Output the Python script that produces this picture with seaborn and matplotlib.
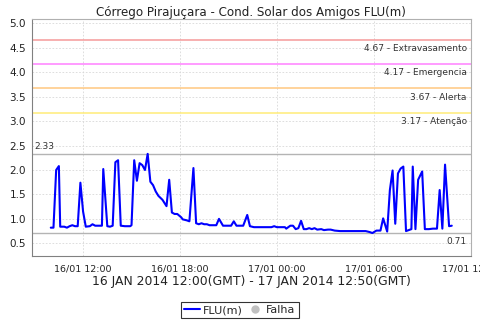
import matplotlib
matplotlib.use("Agg")
import matplotlib.pyplot as plt
import matplotlib.dates as mdates
from matplotlib.lines import Line2D
import pandas as pd
import seaborn as sns

# ---- data ----
times = [
    "2014-01-16 10:00", "2014-01-16 10:10", "2014-01-16 10:20", "2014-01-16 10:30",
    "2014-01-16 10:35", "2014-01-16 10:50", "2014-01-16 11:00", "2014-01-16 11:10",
    "2014-01-16 11:20", "2014-01-16 11:30", "2014-01-16 11:40", "2014-01-16 11:50",
    "2014-01-16 12:00", "2014-01-16 12:10", "2014-01-16 12:25", "2014-01-16 12:35",
    "2014-01-16 12:45", "2014-01-16 13:10", "2014-01-16 13:15", "2014-01-16 13:30",
    "2014-01-16 13:40", "2014-01-16 13:50", "2014-01-16 14:00", "2014-01-16 14:10",
    "2014-01-16 14:20", "2014-01-16 14:35", "2014-01-16 14:55", "2014-01-16 15:00",
    "2014-01-16 15:10", "2014-01-16 15:20", "2014-01-16 15:30", "2014-01-16 15:40",
    "2014-01-16 15:50", "2014-01-16 16:00", "2014-01-16 16:10", "2014-01-16 16:20",
    "2014-01-16 16:30", "2014-01-16 16:40", "2014-01-16 16:55", "2014-01-16 17:10",
    "2014-01-16 17:20", "2014-01-16 17:30", "2014-01-16 17:40", "2014-01-16 17:50",
    "2014-01-16 18:05", "2014-01-16 18:10", "2014-01-16 18:25", "2014-01-16 18:35",
    "2014-01-16 18:50", "2014-01-16 19:00", "2014-01-16 19:10", "2014-01-16 19:20",
    "2014-01-16 19:30", "2014-01-16 19:40", "2014-01-16 19:50", "2014-01-16 20:15",
    "2014-01-16 20:25", "2014-01-16 20:40", "2014-01-16 21:10", "2014-01-16 21:20",
    "2014-01-16 21:30", "2014-01-16 21:55", "2014-01-16 22:10", "2014-01-16 22:20",
    "2014-01-16 22:35", "2014-01-16 23:40", "2014-01-16 23:50", "2014-01-17 00:00",
    "2014-01-17 00:30", "2014-01-17 00:35", "2014-01-17 00:50", "2014-01-17 01:00",
    "2014-01-17 01:10", "2014-01-17 01:20", "2014-01-17 01:30", "2014-01-17 01:40",
    "2014-01-17 01:50", "2014-01-17 02:00", "2014-01-17 02:10", "2014-01-17 02:20",
    "2014-01-17 02:30", "2014-01-17 02:45", "2014-01-17 02:55", "2014-01-17 03:10",
    "2014-01-17 03:20", "2014-01-17 03:35", "2014-01-17 03:55", "2014-01-17 04:10",
    "2014-01-17 05:30", "2014-01-17 05:45", "2014-01-17 05:55", "2014-01-17 06:10",
    "2014-01-17 06:25", "2014-01-17 06:35", "2014-01-17 06:50", "2014-01-17 07:00",
    "2014-01-17 07:10", "2014-01-17 07:20", "2014-01-17 07:30", "2014-01-17 07:40",
    "2014-01-17 07:50", "2014-01-17 08:00", "2014-01-17 08:10", "2014-01-17 08:20",
    "2014-01-17 08:25", "2014-01-17 08:35", "2014-01-17 08:45", "2014-01-17 09:00",
    "2014-01-17 09:10", "2014-01-17 09:25", "2014-01-17 09:40", "2014-01-17 09:55",
    "2014-01-17 10:05", "2014-01-17 10:15", "2014-01-17 10:25", "2014-01-17 10:40",
    "2014-01-17 10:50",
]
flu = [
    0.82, 0.82, 2.00, 2.08,
    0.84, 0.84, 0.82, 0.85,
    0.87, 0.85, 0.85, 1.74,
    1.15, 0.84, 0.85, 0.89,
    0.86, 0.86, 2.02, 0.85,
    0.84, 0.86, 2.16, 2.20,
    0.86, 0.85, 0.85, 0.87,
    2.20, 1.78, 2.14, 2.10,
    2.00, 2.33, 1.76, 1.69,
    1.56, 1.47, 1.39, 1.26,
    1.80, 1.13, 1.10, 1.10,
    1.03, 0.99, 0.97, 0.95,
    2.04, 0.91, 0.89, 0.91,
    0.89, 0.89, 0.87, 0.87,
    1.00, 0.86, 0.86, 0.95,
    0.86, 0.86, 1.08, 0.85,
    0.83, 0.83, 0.85, 0.83,
    0.83, 0.80, 0.86, 0.86,
    0.79, 0.81, 0.96, 0.79,
    0.79, 0.81, 0.79, 0.81,
    0.78, 0.79, 0.77, 0.78,
    0.78, 0.76, 0.75, 0.75,
    0.75, 0.73, 0.71, 0.76,
    0.76, 1.01, 0.74, 1.59,
    1.99, 0.90, 1.93, 2.03,
    2.07, 0.75, 0.77, 0.79,
    2.07, 0.79, 1.80, 1.97,
    0.79, 0.79, 0.80, 0.80,
    1.59, 0.80, 2.11, 0.85,
    0.86,
]

threshold_values = [4.67, 4.17, 3.67, 3.17]
threshold_names = ["Extravasamento", "Emergencia", "Alerta", "Atenção"]
threshold_colors = ["#F59A9A", "#FF80FF", "#FFC880", "#FFEC78"]
max_value = 2.33
min_value = 0.71

title = "Córrego Pirajuçara - Cond. Solar dos Amigos FLU(m)"
xlabel = "16 JAN 2014 12:00(GMT) - 17 JAN 2014 12:50(GMT)"
y_ticks = [0.5, 1.0, 1.5, 2.0, 2.5, 3.0, 3.5, 4.0, 4.5, 5.0]

# ---- plot ----
sns.set_style("white")
plt.rcParams["font.family"] = ["DejaVu Sans"]

df = pd.DataFrame({"time": pd.to_datetime(times), "flu": flu})

fig = plt.figure(figsize=(4.8, 3.2), dpi=100)
ax = fig.add_axes([0.066, 0.2, 0.915, 0.7406])

sns.lineplot(data=df, x="time", y="flu", ax=ax, color="#0000FF", linewidth=1.5)

for v, n, c in zip(threshold_values, threshold_names, threshold_colors):
    ax.axhline(v, color=c, linewidth=1.1, zorder=1)
    ax.annotate(f"{v:.2f} - {n}", xy=(1, v), xycoords=("axes fraction", "data"),
                xytext=(-3, -3), textcoords="offset points", ha="right", va="top",
                fontsize=6.5, color="#333333")

ax.axhline(max_value, color="#B4B4B4", linewidth=1.0, zorder=1)
ax.annotate(f"{max_value:.2f}", xy=(0, max_value), xycoords=("axes fraction", "data"),
            xytext=(2, 2), textcoords="offset points", ha="left", va="bottom",
            fontsize=6.5, color="#333333")
ax.axhline(min_value, color="#B4B4B4", linewidth=1.0, zorder=1)
ax.annotate(f"{min_value:.2f}", xy=(1, min_value), xycoords=("axes fraction", "data"),
            xytext=(-3, -3), textcoords="offset points", ha="right", va="top",
            fontsize=6.5, color="#333333")

ax.set_ylim(0.24, 5.09)
ax.set_yticks(y_ticks)
ax.yaxis.set_major_formatter(matplotlib.ticker.FormatStrFormatter("%.1f"))
ax.set_xlim(pd.Timestamp("2014-01-16 08:49"), pd.Timestamp("2014-01-17 12:01"))
ax.xaxis.set_major_locator(mdates.HourLocator(byhour=[0, 6, 12, 18]))
ax.xaxis.set_major_formatter(mdates.DateFormatter("%d/%m %H:%M"))

ax.grid(True, color="#D8D8D8", linestyle=(0, (2, 2)), linewidth=0.6)
ax.set_axisbelow(True)
for s in ["top", "right"]:
    ax.spines[s].set_color("#B0B0B0")
    ax.spines[s].set_linewidth(0.8)
for s in ["left", "bottom"]:
    ax.spines[s].set_color("#808080")
    ax.spines[s].set_linewidth(0.8)
ax.tick_params(axis="both", which="both", direction="out", length=2, width=0.6,
               color="#808080", pad=2)
ax.tick_params(axis="y", labelsize=7.5, labelcolor="#222222")
ax.tick_params(axis="x", labelsize=6.8, labelcolor="#222222", pad=4)

ax.set_xlabel(xlabel, fontsize=8.9, color="#222222", labelpad=1)
ax.set_ylabel("")
ax.set_title(title, fontsize=8.6, color="#222222", pad=2.5)

handles = [
    Line2D([0], [0], color="#0000FF", linewidth=1.5),
    Line2D([0], [0], color="#C0C0C0", marker="o", linestyle="none", markersize=5),
]
leg = fig.legend(handles, ["FLU(m)", "Falha"], loc="center", bbox_to_anchor=(0.5, 0.031),
                 ncol=2, frameon=True, fancybox=False, fontsize=8, handlelength=1.4,
                 handletextpad=0.3, columnspacing=0.4, borderpad=0.3, borderaxespad=0)
leg.get_frame().set_edgecolor("black")
leg.get_frame().set_linewidth(0.8)

fig.savefig("out.png", dpi=100)
